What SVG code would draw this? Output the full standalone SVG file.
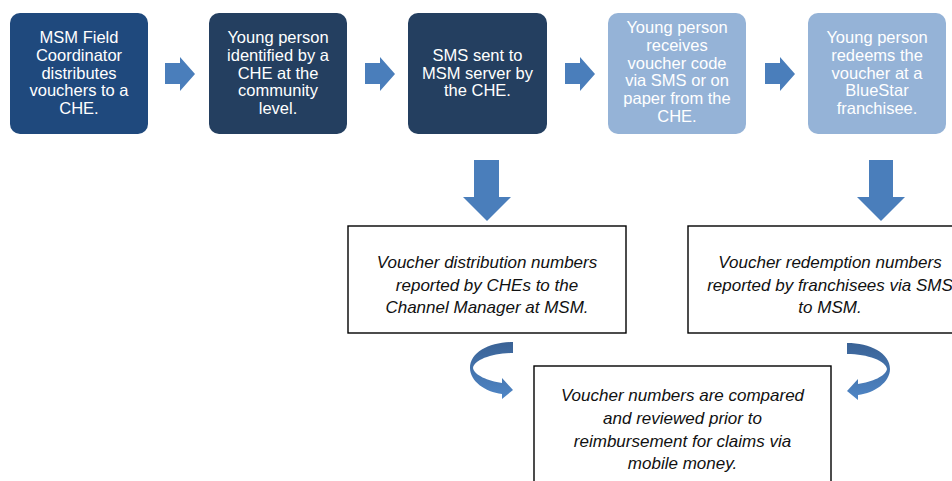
<svg xmlns="http://www.w3.org/2000/svg" width="952" height="481" viewBox="0 0 952 481">
<defs>
<style>
.box{stroke:none}
.t{font-family:"Liberation Sans",Arial,sans-serif;font-size:16.5px;fill:#ffffff;text-anchor:middle}
.n{fill:#ffffff;stroke:#000000;stroke-width:1.4}
.i{font-family:"Liberation Sans",Arial,sans-serif;font-size:17px;font-style:italic;fill:#111111;text-anchor:middle}
.ar{fill:#4A7EBB}
</style>
<linearGradient id="cg" x1="0" y1="0" x2="0" y2="1">
<stop offset="0" stop-color="#3A6295"/>
<stop offset="1" stop-color="#4F86C6"/>
</linearGradient>
<path id="curl" d="M513,342 C490,342 470,352 470,368 C470,381 485,392 502,394 L502,399 L513,390 L502,378 L502,383 C488,381 474,375 473,368 C474,360 492,353 513,353 Z"/>
</defs>
<rect width="952" height="481" fill="#ffffff"/>
<g id="n1">
<rect x="10" y="13" width="138" height="121" rx="10" fill="#1F497D"/>
<text class="t"><tspan x="79" y="43">MSM Field</tspan><tspan x="79" y="60.75">Coordinator</tspan><tspan x="79" y="78.5">distributes</tspan><tspan x="79" y="96.25">vouchers to a</tspan><tspan x="79" y="114">CHE.</tspan></text>
</g>
<g id="n2">
<rect x="209" y="13" width="138" height="121" rx="10" fill="#243F60"/>
<text class="t"><tspan x="278" y="43">Young person</tspan><tspan x="278" y="60.75">identified by a</tspan><tspan x="278" y="78.5">CHE at the</tspan><tspan x="278" y="96.25">community</tspan><tspan x="278" y="114">level.</tspan></text>
</g>
<g id="n3">
<rect x="408" y="13" width="139" height="121" rx="10" fill="#243F60"/>
<text class="t"><tspan x="477.5" y="60.75">SMS sent to</tspan><tspan x="477.5" y="78.5">MSM server by</tspan><tspan x="477.5" y="96.25">the CHE.</tspan></text>
</g>
<g id="n4">
<rect x="608" y="13" width="138" height="121" rx="10" fill="#95B3D7"/>
<text class="t"><tspan x="677" y="33">Young person</tspan><tspan x="677" y="50.75">receives</tspan><tspan x="677" y="68.5">voucher code</tspan><tspan x="677" y="86.25">via SMS or on</tspan><tspan x="677" y="104">paper from the</tspan><tspan x="677" y="121.75">CHE.</tspan></text>
</g>
<g id="n5">
<rect x="808" y="13" width="138" height="121" rx="10" fill="#95B3D7"/>
<text class="t"><tspan x="877" y="43">Young person</tspan><tspan x="877" y="60.75">redeems the</tspan><tspan x="877" y="78.5">voucher at a</tspan><tspan x="877" y="96.25">BlueStar</tspan><tspan x="877" y="114">franchisee.</tspan></text>
</g>
<g id="n6">
<rect class="n" x="348" y="226" width="278" height="107"/>
<text class="i"><tspan x="487" y="268">Voucher distribution numbers</tspan><tspan x="487" y="290.5">reported by CHEs to the</tspan><tspan x="487" y="313">Channel Manager at MSM.</tspan></text>
</g>
<g id="n7">
<rect class="n" x="688" y="226" width="290" height="107"/>
<text class="i"><tspan x="830" y="268">Voucher redemption numbers</tspan><tspan x="830" y="290.5">reported by franchisees via SMS</tspan><tspan x="830" y="313">to MSM.</tspan></text>
</g>
<g id="n8">
<rect class="n" x="534" y="366" width="297" height="130"/>
<text class="i"><tspan x="682.5" y="401">Voucher numbers are compared</tspan><tspan x="682.5" y="424">and reviewed prior to</tspan><tspan x="682.5" y="447">reimbursement for claims via</tspan><tspan x="682.5" y="469">mobile money.</tspan></text>
</g>
<g id="connectors">
<polygon class="ar" points="165,63 180,63 180,57 195,74 180,91 180,84 165,84"/>
<polygon class="ar" points="365,63 380,63 380,57 395,74 380,91 380,84 365,84"/>
<polygon class="ar" points="565,63 580,63 580,57 595,74 580,91 580,84 565,84"/>
<polygon class="ar" points="765,63 780,63 780,57 795,74 780,91 780,84 765,84"/>
<polygon class="ar" points="474,160 499,160 499,197 511,197 487,221 463,197 474,197"/>
<polygon class="ar" points="869,160 893,160 893,197 905,197 881,221 857,197 869,197"/>
<use href="#curl" fill="url(#cg)"/>
<use href="#curl" fill="url(#cg)" transform="translate(1360,1) scale(-1,1)"/>
</g>
</svg>
